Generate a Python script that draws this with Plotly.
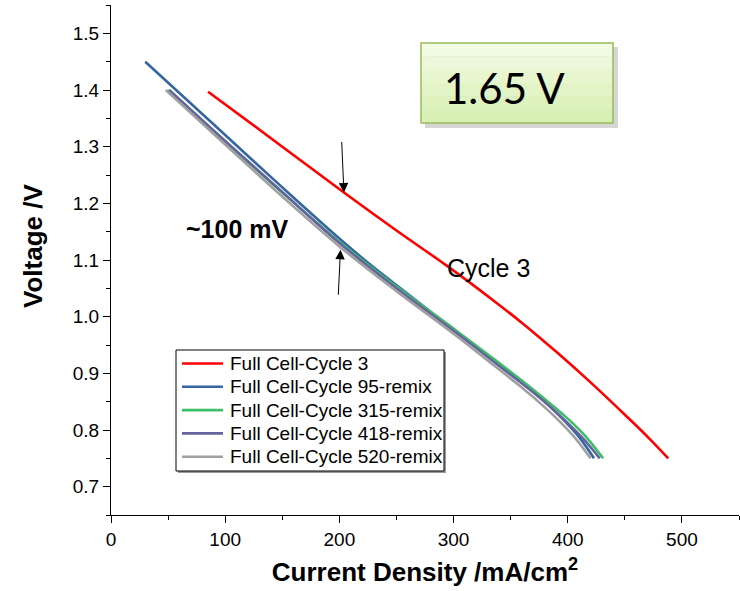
import plotly.graph_objects as go

# Polarization curves: current density (mA/cm^2) vs cell voltage (V)
cycle3_j = [85, 150, 204, 250, 294, 334, 360, 390, 420, 450, 470, 488]
cycle3_v = [1.397, 1.300, 1.219, 1.152, 1.090, 1.030, 0.989, 0.938, 0.884, 0.827, 0.788, 0.75]

cycle95_j = [30, 95, 130, 160, 200, 230, 260, 300, 340, 360, 379, 394, 409, 423]
cycle95_v = [1.45, 1.33, 1.265, 1.21, 1.138, 1.087, 1.040, 0.977, 0.916, 0.884, 0.852, 0.823, 0.79, 0.75]

cycle315_j = [50, 100, 150, 200, 250, 300, 340, 365, 385, 400, 416, 431]
cycle315_v = [1.40, 1.309, 1.219, 1.132, 1.053, 0.979, 0.918, 0.879, 0.846, 0.82, 0.788, 0.75]

cycle418_j = [51, 100, 150, 200, 250, 300, 340, 365, 384, 398, 413, 428]
cycle418_v = [1.40, 1.31, 1.22, 1.13, 1.05, 0.975, 0.913, 0.874, 0.842, 0.816, 0.786, 0.75]

cycle520_j = [48, 95, 150, 200, 250, 300, 336, 356, 376, 392, 406, 420]
cycle520_v = [1.40, 1.313, 1.212, 1.124, 1.045, 0.97, 0.913, 0.881, 0.847, 0.817, 0.787, 0.75]

series_names = [
    "Full Cell-Cycle 3",
    "Full Cell-Cycle 95-remix",
    "Full Cell-Cycle 315-remix",
    "Full Cell-Cycle 418-remix",
    "Full Cell-Cycle 520-remix",
]
series_colors = ["#ff0000", "#3366a2", "#3cbf66", "#65649f", "#a0a0a0"]
series_x = [cycle3_j, cycle95_j, cycle315_j, cycle418_j, cycle520_j]
series_y = [cycle3_v, cycle95_v, cycle315_v, cycle418_v, cycle520_v]

FONT = "Arial, Liberation Sans, sans-serif"

fig = go.Figure()
for name, color, xs, ys in zip(series_names, series_colors, series_x, series_y):
    fig.add_trace(go.Scatter(
        x=xs, y=ys, mode="lines", name=name, showlegend=False,
        line=dict(color=color, width=2.6, shape="spline", smoothing=1.0),
    ))

# plot area in pixels: x 111..739, y 5..515
L, R, T, B = 111, 739, 5, 515
W, H = 740, 591


def px(x):
    return (x - L) / (R - L)


def py(y):
    return (B - y) / (B - T)


axis_common = dict(
    showline=True, linecolor="black", linewidth=1.3,
    ticks="outside", ticklen=7, tickwidth=1.3, tickcolor="black",
    showgrid=False, zeroline=False, mirror=False,
    tickfont=dict(family=FONT, size=19, color="black"),
    minor=dict(ticks="outside", ticklen=4, tickwidth=1.3, tickcolor="black", showgrid=False),
)

fig.update_xaxes(
    range=[0, 550], tickmode="array", tickvals=[0, 100, 200, 300, 400, 500],
    minor_dtick=50, minor_tick0=0,
    title=dict(text="<b>Current Density /mA/cm<sup>2</sup></b>",
               font=dict(family=FONT, size=26, color="black"), standoff=13),
    **axis_common,
)
fig.update_yaxes(
    range=[0.65, 1.55], tickmode="array",
    tickvals=[0.7, 0.8, 0.9, 1.0, 1.1, 1.2, 1.3, 1.4, 1.5],
    ticktext=["0.7", "0.8", "0.9", "1.0", "1.1", "1.2", "1.3", "1.4", "1.5"],
    minor_dtick=0.05, minor_tick0=0.65,
    **axis_common,
)

# y-axis title
fig.add_annotation(xref="paper", yref="paper", x=px(33), y=py(246),
                   xanchor="center", yanchor="middle", textangle=-90,
                   text="<b>Voltage /V</b>", showarrow=False,
                   font=dict(family=FONT, size=26, color="black"))

# shadow behind the voltage label box
fig.add_shape(type="rect", xref="paper", yref="paper",
              x0=px(425), x1=px(618), y0=py(128), y1=py(47),
              fillcolor="rgba(0,0,0,0.16)", line=dict(width=0), layer="below")
# gradient-like fill of the box
box_bands = ["#f1fae2", "#ecf8d9", "#e7f6cf", "#e2f4c6", "#ddf2bc", "#d8f0b3"]
bx0, bx1, by0, by1 = 421, 613, 43, 123
step = (by1 - by0) / len(box_bands)
for i, c in enumerate(box_bands):
    fig.add_shape(type="rect", xref="paper", yref="paper",
                  x0=px(bx0), x1=px(bx1), y0=py(by0 + (i + 1) * step), y1=py(by0 + i * step),
                  fillcolor=c, line=dict(width=0), layer="below")
fig.add_shape(type="rect", xref="paper", yref="paper",
              x0=px(bx0), x1=px(bx1), y0=py(by1), y1=py(by0),
              fillcolor="rgba(0,0,0,0)", line=dict(color="#9bbb59", width=1.5), layer="above")

fig.add_annotation(xref="paper", yref="paper", x=px(504), y=py(88),
                   xanchor="center", yanchor="middle",
                   text="1.65 V", showarrow=False,
                   font=dict(family="Lato, Open Sans, sans-serif", size=42, color="black"))

fig.add_annotation(xref="paper", yref="paper", x=px(488), y=py(268),
                   xanchor="center", yanchor="middle", text="Cycle 3", showarrow=False,
                   font=dict(family=FONT, size=25, color="black"))

fig.add_annotation(xref="paper", yref="paper", x=px(237), y=py(229),
                   xanchor="center", yanchor="middle", text="<b>~100 mV</b>",
                   showarrow=False, font=dict(family=FONT, size=25, color="black"))

# arrows marking the voltage gap
fig.add_annotation(x=204, y=1.219, ax=202, ay=1.311, xref="x", yref="y", axref="x", ayref="y",
                   text="", showarrow=True, arrowhead=2, arrowsize=1.9, arrowwidth=1,
                   arrowcolor="black")
fig.add_annotation(x=201, y=1.118, ax=199, ay=1.036, xref="x", yref="y", axref="x", ayref="y",
                   text="", showarrow=True, arrowhead=2, arrowsize=1.9, arrowwidth=1,
                   arrowcolor="black")

# legend box drawn with shapes: frame, sample lines and labels
lg_x0, lg_x1, lg_y0, lg_y1 = 176, 444, 350, 471
fig.add_shape(type="rect", xref="paper", yref="paper",
              x0=px(lg_x0 + 2), x1=px(lg_x1 + 2), y0=py(lg_y1 + 2), y1=py(lg_y0 + 2),
              fillcolor="#9a9a9a", line=dict(width=0), layer="above")
fig.add_shape(type="rect", xref="paper", yref="paper",
              x0=px(lg_x0), x1=px(lg_x1), y0=py(lg_y1), y1=py(lg_y0),
              fillcolor="white", line=dict(color="black", width=1), layer="above")
row0, row_step = 363.5, 23.3
for i, (name, color) in enumerate(zip(series_names, series_colors)):
    ry = row0 + i * row_step
    fig.add_shape(type="line", xref="paper", yref="paper",
                  x0=px(182), x1=px(223), y0=py(ry), y1=py(ry),
                  line=dict(color=color, width=2.6), layer="above")
    fig.add_annotation(xref="paper", yref="paper", x=px(228), y=py(ry),
                       xanchor="left", yanchor="middle", text=name, showarrow=False,
                       font=dict(family=FONT, size=19, color="black"))

fig.update_layout(
    width=W, height=H,
    margin=dict(l=L, r=W - R, t=T, b=H - B),
    paper_bgcolor="white", plot_bgcolor="white",
    showlegend=False,
)

fig.write_html("out.html")
